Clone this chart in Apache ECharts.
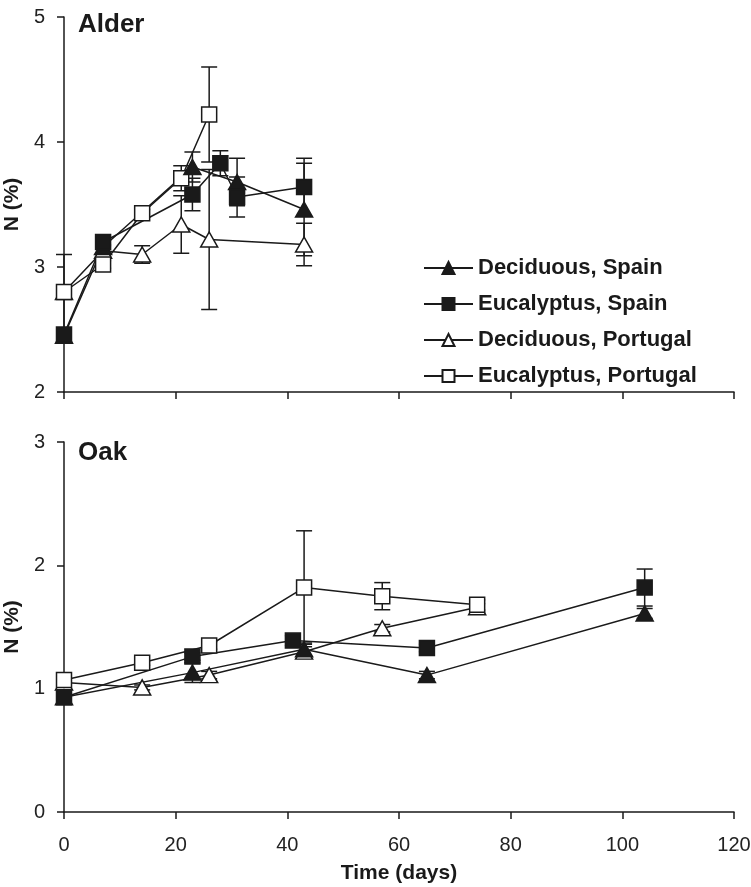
<!DOCTYPE html>
<html>
<head>
<meta charset="utf-8">
<script src="https://cdn.jsdelivr.net/npm/echarts@6/dist/echarts.min.js"></script>
<style>
  html, body { margin: 0; padding: 0; background: #fff; }
  #main { width: 751px; height: 887px; }
</style>
</head>
<body>
<div id="main"></div>
<script>
// series names (legend)
const seriesNames = ['Deciduous, Spain', 'Eucalyptus, Spain', 'Deciduous, Portugal', 'Eucalyptus, Portugal'];

// x axis ticks (days)
const timeTicks = [0, 20, 40, 60, 80, 100, 120];

// Alder panel: days, N (%), error
const alderDecSpainDays = [0, 7, 23, 31, 43];
const alderDecSpainN = [2.45, 3.16, 3.80, 3.68, 3.46];
const alderDecSpainErr = [0, 0, 0.12, 0.19, 0.37];

const alderEucSpainDays = [0, 7, 23, 28, 31, 43];
const alderEucSpainN = [2.46, 3.20, 3.58, 3.83, 3.56, 3.64];
const alderEucSpainErr = [0, 0.03, 0.13, 0.10, 0.16, 0.23];

const alderDecPortDays = [0, 7, 14, 21, 26, 43];
const alderDecPortN = [2.80, 3.13, 3.10, 3.34, 3.22, 3.18];
const alderDecPortErr = [0.30, 0.05, 0.07, 0.23, 0.56, 0.17];

const alderEucPortDays = [0, 7, 14, 21, 26];
const alderEucPortN = [2.80, 3.02, 3.43, 3.71, 4.22];
const alderEucPortErr = [0.05, 0.03, 0.03, 0.10, 0.38];

// Oak panel
const oakDecSpainDays = [0, 23, 43, 65, 104];
const oakDecSpainN = [0.93, 1.13, 1.32, 1.11, 1.61];
const oakDecSpainErr = [0.05, 0.08, 0.05, 0.03, 0.04];

const oakEucSpainDays = [0, 23, 41, 65, 104];
const oakEucSpainN = [0.93, 1.26, 1.39, 1.33, 1.82];
const oakEucSpainErr = [0.03, 0.03, 0.04, 0.03, 0.15];

const oakDecPortDays = [0, 14, 26, 43, 57, 74];
const oakDecPortN = [1.05, 1.01, 1.11, 1.30, 1.49, 1.66];
const oakDecPortErr = [0.03, 0.02, 0.03, 0.04, 0.03, 0.03];

const oakEucPortDays = [0, 14, 26, 43, 57, 74];
const oakEucPortN = [1.07, 1.21, 1.35, 1.82, 1.75, 1.68];
const oakEucPortErr = [0.05, 0.02, 0.03, 0.46, 0.11, 0.04];

const ink = '#1a1a1a';
const font = 'Liberation Sans, Arial, sans-serif';

// marker styles per series
const markerStyles = [
    { symbol: 'triangle', size: [17, 15], fill: ink },
    { symbol: 'rect', size: 15, fill: ink },
    { symbol: 'triangle', size: [17, 15], fill: '#fff' },
    { symbol: 'rect', size: 15, fill: '#fff' }
];

function pairs(days, vals) {
    return days.map((d, i) => [d, vals[i]]);
}

function errData(days, vals, errs) {
    let out = [];
    days.forEach((d, i) => {
        if (errs[i] > 0) out.push([d, vals[i] - errs[i], vals[i] + errs[i]]);
    });
    return out;
}

function renderErr(params, api) {
    let x = api.value(0);
    let lo = api.coord([x, api.value(1)]);
    let hi = api.coord([x, api.value(2)]);
    let half = 8;
    let style = { stroke: ink, lineWidth: 1.5 };
    return {
        type: 'group',
        children: [
            { type: 'line', shape: { x1: lo[0], y1: lo[1], x2: hi[0], y2: hi[1] }, style: style },
            { type: 'line', shape: { x1: lo[0] - half, y1: lo[1], x2: lo[0] + half, y2: lo[1] }, style: style },
            { type: 'line', shape: { x1: hi[0] - half, y1: hi[1], x2: hi[0] + half, y2: hi[1] }, style: style }
        ]
    };
}

function lineSeries(idx, grid, days, vals) {
    let m = markerStyles[idx];
    return {
        name: seriesNames[idx],
        type: 'line',
        xAxisIndex: grid,
        yAxisIndex: grid,
        data: pairs(days, vals),
        symbol: m.symbol,
        symbolSize: m.size,
        showAllSymbol: true,
        z: 5,
        lineStyle: { color: ink, width: 1.5 },
        itemStyle: { color: m.fill, borderColor: ink, borderWidth: 1.5 },
        emphasis: { disabled: true },
        animation: false
    };
}

function errSeries(grid, days, vals, errs) {
    return {
        type: 'custom',
        xAxisIndex: grid,
        yAxisIndex: grid,
        renderItem: renderErr,
        data: errData(days, vals, errs),
        encode: { x: 0, y: [1, 2] },
        z: 3,
        silent: true,
        animation: false
    };
}

const panels = [
    [[alderDecSpainDays, alderDecSpainN, alderDecSpainErr],
     [alderEucSpainDays, alderEucSpainN, alderEucSpainErr],
     [alderDecPortDays, alderDecPortN, alderDecPortErr],
     [alderEucPortDays, alderEucPortN, alderEucPortErr]],
    [[oakDecSpainDays, oakDecSpainN, oakDecSpainErr],
     [oakEucSpainDays, oakEucSpainN, oakEucSpainErr],
     [oakDecPortDays, oakDecPortN, oakDecPortErr],
     [oakEucPortDays, oakEucPortN, oakEucPortErr]]
];

let series = [];
panels.forEach((panel, g) => {
    panel.forEach(s => series.push(errSeries(g, s[0], s[1], s[2])));
    // draw order: Portugal first, Spain on top
    [2, 3, 0, 1].forEach(i => series.push(lineSeries(i, g, panel[i][0], panel[i][1])));
});

function xAxis(grid, showLabels) {
    return {
        type: 'value',
        gridIndex: grid,
        min: timeTicks[0],
        max: timeTicks[timeTicks.length - 1],
        interval: 20,
        axisLine: { lineStyle: { color: ink, width: 1.5 } },
        axisTick: { show: true, length: 7, lineStyle: { color: ink, width: 1.5 } },
        axisLabel: { show: showLabels, color: '#222', fontSize: 20, fontFamily: font, margin: 23 },
        splitLine: { show: false },
        name: showLabels ? 'Time (days)' : '',
        nameLocation: 'middle',
        nameGap: 51,
        nameTextStyle: { color: ink, fontSize: 21, fontWeight: 'bold', fontFamily: font }
    };
}

function yAxis(grid, min, max) {
    return {
        type: 'value',
        gridIndex: grid,
        min: min,
        max: max,
        interval: 1,
        axisLine: { show: true, lineStyle: { color: ink, width: 1.5 } },
        axisTick: { show: true, length: 7, lineStyle: { color: ink, width: 1.5 } },
        axisLabel: { color: '#222', fontSize: 20, fontFamily: font, margin: 19 },
        splitLine: { show: false },
        name: 'N (%)',
        nameLocation: 'middle',
        nameGap: 37,
        nameRotate: 90,
        nameTextStyle: { color: ink, fontSize: 21, fontWeight: 'bold', fontFamily: font }
    };
}

let myChart = echarts.init(document.getElementById('main'));
let option = {
    backgroundColor: '#fff',
    animation: false,
    title: [
        { text: 'Alder', left: 78, top: 12, padding: 0, textStyle: { color: ink, fontSize: 26, fontWeight: 'bold', fontFamily: font } },
        { text: 'Oak', left: 78, top: 440, padding: 0, textStyle: { color: ink, fontSize: 26, fontWeight: 'bold', fontFamily: font } }
    ],
    grid: [
        { left: 64, right: 17, top: 17, height: 375, containLabel: false, outerBoundsMode: 'none' },
        { left: 64, right: 17, top: 442, height: 370, containLabel: false, outerBoundsMode: 'none' }
    ],
    legend: {
        data: seriesNames,
        orient: 'vertical',
        left: 423,
        top: 257,
        padding: 0,
        itemWidth: 49,
        itemHeight: 15,
        itemGap: 14,
        selectedMode: false,
        textStyle: { color: ink, fontSize: 22, fontWeight: 'bold', fontFamily: font }
    },
    xAxis: [xAxis(0, false), xAxis(1, true)],
    yAxis: [yAxis(0, 2, 5), yAxis(1, 0, 3)],
    series: series
};
myChart.setOption(option);
</script>
</body>
</html>
